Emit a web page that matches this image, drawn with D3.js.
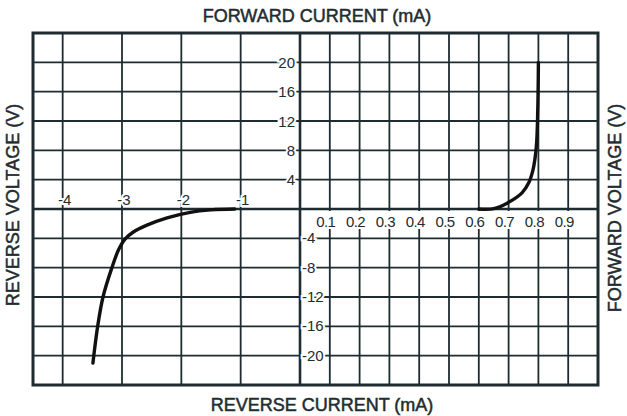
<!DOCTYPE html>
<html>
<head>
<meta charset="utf-8">
<script src="https://cdn.jsdelivr.net/npm/d3@7"></script>
<style>
  body { margin: 0; background: #fff; }
  text { font-family: "Liberation Sans", Arial, sans-serif; fill: #222c30; }
</style>
</head>
<body>
<div id="chart"></div>
<script>
// Tick values.
const reverseCurrentTicks = [-4, -3, -2, -1];
const forwardCurrentTicks = [0.1, 0.2, 0.3, 0.4, 0.5, 0.6, 0.7, 0.8, 0.9];
const positiveVoltTicks = [4, 8, 12, 16, 20];
const negativeVoltTicks = [-4, -8, -12, -16, -20];

// Forward branch (current mA, voltage V).
const forwardI = [0.6, 0.65, 0.695, 0.745, 0.768, 0.781, 0.789, 0.794, 0.797, 0.799, 0.8];
const forwardV = [0, 0.05, 0.8, 2.2, 3.6, 5.2, 7, 9, 12, 16, 20];

// Reverse branch.
const reverseI = [-3.49, -3.41, -3.32, -3.17, -3.06, -2.95, -2.82, -2.58, -2.24, -1.85, -1.5, -1.1];
const reverseV = [-21, -16, -12, -8, -5.6, -4.1, -3.2, -2.2, -1.2, -0.45, -0.12, 0];

const W = 627, H = 416;
const ink = '#1e2c31';

const svg = d3.select('#chart').append('svg')
  .attr('width', W).attr('height', H);

// Two different scales left and right of the origin.
const xNeg = d3.scaleLinear().domain([-4.5, 0]).range([33, 300]);
const xPos = d3.scaleLinear().domain([0, 1]).range([300, 598]);
const x = v => (v < 0 ? xNeg(v) : xPos(v));
const y = d3.scaleLinear().domain([-24, 24]).range([385, 33]);

const grid = svg.append('g').attr('stroke', ink).attr('stroke-width', 1.8);

// vertical grid lines
grid.selectAll('.vl')
  .data(reverseCurrentTicks.concat(forwardCurrentTicks))
  .join('line')
  .attr('x1', d => x(d)).attr('x2', d => x(d))
  .attr('y1', y(24)).attr('y2', y(-24));

// horizontal grid lines
grid.selectAll('.hl')
  .data(positiveVoltTicks.concat(negativeVoltTicks))
  .join('line')
  .attr('x1', xNeg(-4.5)).attr('x2', xPos(1))
  .attr('y1', d => y(d)).attr('y2', d => y(d));

// white band behind the forward current labels
svg.append('rect')
  .attr('x', x(0) + 2).attr('y', y(0) + 2)
  .attr('width', xPos(1) - x(0) - 4).attr('height', 18)
  .attr('fill', '#fff');

// main axes
svg.append('line')
  .attr('x1', xNeg(-4.5)).attr('x2', xPos(1))
  .attr('y1', y(0)).attr('y2', y(0))
  .attr('stroke', ink).attr('stroke-width', 2.6);
svg.append('line')
  .attr('x1', x(0)).attr('x2', x(0))
  .attr('y1', y(24)).attr('y2', y(-24))
  .attr('stroke', ink).attr('stroke-width', 2.6);

// frame
svg.append('rect')
  .attr('x', xNeg(-4.5)).attr('y', y(24))
  .attr('width', xPos(1) - xNeg(-4.5)).attr('height', y(-24) - y(24))
  .attr('fill', 'none').attr('stroke', ink).attr('stroke-width', 3);

// Curve
const line = d3.line()
  .x(d => x(d[0]))
  .y(d => y(d[1]))
  .curve(d3.curveCatmullRom.alpha(0.5));

const curves = [d3.zip(forwardI, forwardV), d3.zip(reverseI, reverseV)];
svg.selectAll('.curve')
  .data(curves)
  .join('path')
  .attr('class', 'curve')
  .attr('d', line)
  .attr('fill', 'none')
  .attr('stroke', '#111')
  .attr('stroke-width', 3.4)
  .attr('stroke-linecap', 'round');

// Tick labels
const labels = svg.append('g')
  .attr('font-size', 15)
  .attr('stroke', '#fff').attr('stroke-width', 4)
  .attr('paint-order', 'stroke');

labels.selectAll('.rl')
  .data(reverseCurrentTicks)
  .join('text')
  .attr('x', d => x(d) + 2).attr('y', y(0) - 4)
  .attr('text-anchor', 'middle')
  .text(d => d);

labels.selectAll('.fl')
  .data(forwardCurrentTicks)
  .join('text')
  .attr('x', d => x(d) - 4).attr('y', y(0) + 18)
  .attr('text-anchor', 'middle')
  .attr('letter-spacing', -0.6)
  .attr('stroke', 'none')
  .text(d => d3.format('.1f')(d));

labels.selectAll('.pv')
  .data(positiveVoltTicks)
  .join('text')
  .attr('x', x(0) - 5).attr('y', d => y(d) + 5.5)
  .attr('text-anchor', 'end')
  .text(d => d);

labels.selectAll('.nv')
  .data(negativeVoltTicks)
  .join('text')
  .attr('x', x(0) + 2).attr('y', d => y(d) + 5)
  .attr('text-anchor', 'start')
  .text(d => d);

// Axis titles
const title = svg.append('g')
  .attr('font-size', 18)
  .attr('stroke', '#222c30').attr('stroke-width', 0.5);
title.append('text')
  .attr('x', 317).attr('y', 22)
  .attr('text-anchor', 'middle')
  .text('FORWARD CURRENT (mA)');
title.append('text')
  .attr('x', 322).attr('y', 411)
  .attr('text-anchor', 'middle')
  .text('REVERSE CURRENT (mA)');
title.append('text')
  .attr('transform', 'translate(19,205) rotate(-90)')
  .attr('text-anchor', 'middle')
  .text('REVERSE VOLTAGE (V)');
title.append('text')
  .attr('transform', 'translate(621,208) rotate(-90)')
  .attr('text-anchor', 'middle')
  .text('FORWARD VOLTAGE (V)');
</script>
</body>
</html>
